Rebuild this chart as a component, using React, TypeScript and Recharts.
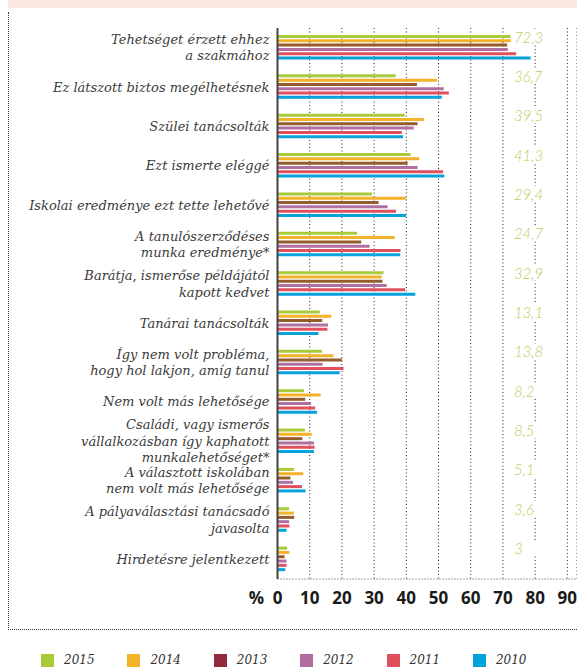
import React from 'react';
import { Bar, BarChart, CartesianGrid, LabelList, XAxis, YAxis } from 'recharts';

const categories = [
  'Tehetséget érzett ehhez\na szakmához',
  'Ez látszott biztos megélhetésnek',
  'Szülei tanácsolták',
  'Ezt ismerte eléggé',
  'Iskolai eredménye ezt tette lehetővé',
  'A tanulószerződéses\nmunka eredménye*',
  'Barátja, ismerőse példájától\nkapott kedvet',
  'Tanárai tanácsolták',
  'Így nem volt probléma,\nhogy hol lakjon, amíg tanul',
  'Nem volt más lehetősége',
  'Családi, vagy ismerős\nvállalkozásban így kaphatott\nmunkalehetőséget*',
  'A választott iskolában\nnem volt más lehetősége',
  'A pályaválasztási tanácsadó\njavasolta',
  'Hirdetésre jelentkezett',
];

const years = ['2015', '2014', '2013', '2012', '2011', '2010'];

const v2015 = [72.3, 36.7, 39.5, 41.3, 29.4, 24.7, 32.9, 13.1, 13.8, 8.2, 8.5, 5.1, 3.6, 3];
const v2014 = [72.4, 49.5, 45.5, 44, 39.9, 36.4, 32.3, 16.7, 17.4, 13.4, 10.6, 8, 5.1, 3.7];
const v2013 = [71.3, 43.3, 43.5, 40.4, 31.4, 26, 32.6, 13.9, 20, 8.6, 7.7, 4, 5.2, 2.2];
const v2012 = [71.5, 51.6, 42.3, 43.5, 34.2, 28.6, 33.9, 15.7, 14, 10.4, 11.3, 4.8, 3.6, 2.8];
const v2011 = [74.1, 53.2, 38.6, 51.4, 36.8, 38.2, 39.6, 15.5, 20.5, 11.7, 11.5, 7.6, 3.7, 2.8];
const v2010 = [78.6, 51, 39, 51.8, 39.9, 38.1, 42.8, 12.7, 19.3, 12.3, 11.3, 8.7, 2.8, 2.4];

const xTicks = [0, 10, 20, 30, 40, 50, 60, 70, 80, 90];

const barColors = ['#a8cb3a', '#f4b12a', '#955c2c', '#b170a2', '#e0505e', '#07a2dc'];
const legendColors = ['#a8cb3a', '#f4b12a', '#922b3c', '#b06ea0', '#df4f5d', '#00a3dc'];

const series = [v2015, v2014, v2013, v2012, v2011, v2010];

const data = categories.map((name, i) => {
  const row: Record<string, number | string> = { name };
  years.forEach((y, k) => {
    row[y] = series[k][i];
  });
  return row;
});

const serif = "'DejaVu Serif', serif";

function CategoryTick(props: any) {
  const { x, y, payload } = props;
  const lines = String(payload.value).split('\n');
  const lh = 16.5;
  return (
    <g>
      {lines.map((line, i) => (
        <text
          key={i}
          x={x}
          y={y + (i - (lines.length - 1) / 2) * lh}
          textAnchor="end"
          dominantBaseline="central"
          fontFamily={serif}
          fontStyle="italic"
          fontSize={13}
          fill="#3a3a3a"
        >
          {line}
        </text>
      ))}
    </g>
  );
}

function ValueTick(props: any) {
  const { x, y, payload } = props;
  return (
    <g>
      {payload.value === 0 && (
        <text
          x={x - 21}
          y={y + 10}
          textAnchor="middle"
          dominantBaseline="central"
          fontFamily="'Open Sans', sans-serif"
          fontWeight={700}
          fontSize={17}
          fill="#1a1a1a"
        >
          %
        </text>
      )}
      <text
        x={x}
        y={y + 10}
        textAnchor="middle"
        dominantBaseline="central"
        fontFamily="'Open Sans', sans-serif"
        fontWeight={700}
        fontSize={17}
        fill="#1a1a1a"
      >
        {payload.value}
      </text>
    </g>
  );
}

// label column sits at a fixed value position on the x scale
function ShareLabel(props: any) {
  const { x, y, width, height, value } = props;
  const unit = width / value;
  const lx = x + unit * 73.4;
  const cy = y + height / 2;
  return (
    <g>
      <rect x={lx - 1} y={cy - 8} width={30} height={16} fill="#fff" />
      <text
        x={lx}
        y={cy}
        dominantBaseline="central"
        fontFamily="Lato, sans-serif"
        fontStyle="italic"
        fontWeight={300}
        fontSize={15}
        fill="#b3d05a"
      >
        {String(value).replace('.', ',')}
      </text>
    </g>
  );
}

export default function App() {
  return (
    <div style={{ position: 'absolute', left: 0, top: 0, width: 577, height: 669, background: '#fff' }}>
      <div style={{ position: 'absolute', left: 8, top: 0, width: 569, height: 8, background: '#fbe8e1' }} />
      <div
        style={{
          position: 'absolute',
          left: 8,
          top: 12,
          width: 569,
          height: 618,
          borderLeft: '1px dotted #333',
          borderBottom: '1px dotted #333',
          boxSizing: 'border-box',
        }}
      />
      <div style={{ position: 'absolute', left: 0, top: 0 }}>
        <BarChart
          width={577}
          height={669}
          data={data}
          layout="vertical"
          margin={{ top: 28, right: 0, bottom: 60, left: 0 }}
          barSize={3}
          barGap={1.3}
        >
          <CartesianGrid horizontal={false} stroke="#222" strokeDasharray="1 2.5" />
          <XAxis
            type="number"
            domain={[0, 93]}
            ticks={xTicks}
            height={30}
            tickLine={false}
            axisLine={{ stroke: '#444', strokeDasharray: '1 2' }}
            tick={<ValueTick />}
            interval={0}
          />
          <YAxis
            type="category"
            dataKey="name"
            width={277.5}
            tickLine={false}
            axisLine={{ stroke: '#444', strokeWidth: 2 }}
            tick={<CategoryTick />}
            interval={0}
          />
          {years.map((y, k) => (
            <Bar key={y} dataKey={y} fill={barColors[k]} isAnimationActive={false}>
              {k === 0 && <LabelList dataKey={y} content={<ShareLabel />} />}
            </Bar>
          ))}
        </BarChart>
      </div>
      <div style={{ position: 'absolute', left: 41, top: 653, display: 'flex' }}>
        {years.map((y, k) => (
          <div key={y} style={{ width: 86.4, display: 'flex', alignItems: 'center' }}>
            <div style={{ width: 13, height: 13, background: legendColors[k] }} />
            <span
              style={{
                marginLeft: 10,
                fontFamily: serif,
                fontStyle: 'italic',
                fontSize: 12,
                color: '#333',
              }}
            >
              {y}
            </span>
          </div>
        ))}
      </div>
    </div>
  );
}
